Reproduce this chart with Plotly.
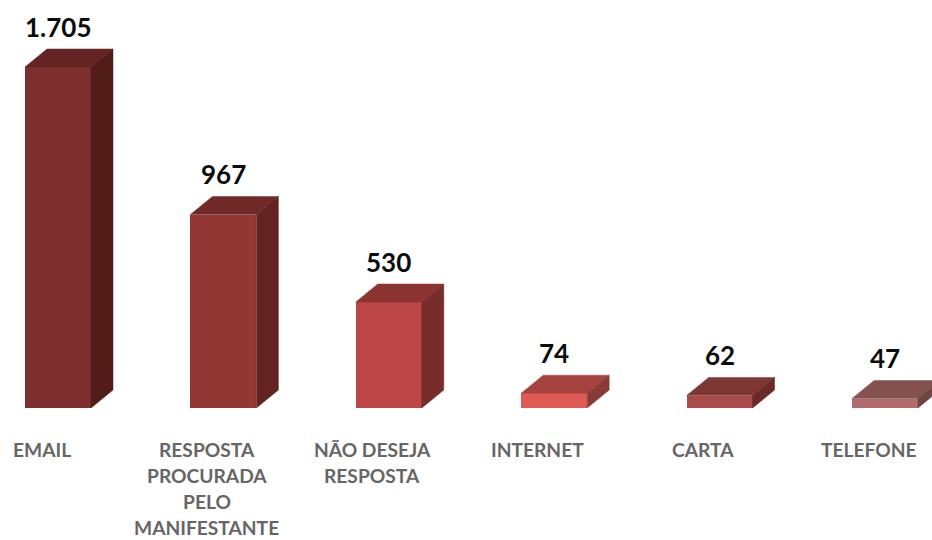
import plotly.graph_objects as go

categories = ["EMAIL", "RESPOSTA<br>PROCURADA<br>PELO<br>MANIFESTANTE", "NÃO DESEJA<br>RESPOSTA", "INTERNET", "CARTA", "TELEFONE"]
values = [1705, 967, 530, 74, 62, 47]
value_labels = ["1.705", "967", "530", "74", "62", "47"]
front_colors = ["#7D2E2E", "#933735", "#BB4645", "#E05A55", "#A84B4A", "#B06C6C"]
top_colors = ["#632422", "#702B29", "#8C3432", "#A7433E", "#7F3733", "#845350"]
side_colors = ["#511C18", "#622321", "#762D2B", "#883A36", "#6A2B28", "#6F4441"]

W, H = 932, 540
STEP = 165.4
SCALE = 0.2          # px per unit
BASE_PX = 408
BAR_W = 66 / STEP
DX = 22 / STEP       # depth, x axis units
DY = 18 / SCALE      # depth, y axis units
LINE = 26.2
LABEL_XSHIFT = -16.5

fig = go.Figure()
xs = list(range(len(values)))

for i, v in zip(xs, values):
    l, r = i - BAR_W / 2, i + BAR_W / 2
    fig.add_scatter(x=[l, r, r + DX, l + DX, l], y=[v, v, v + DY, v + DY, v], fill="toself", mode="lines",
                    line=dict(width=0.5, color=top_colors[i]), fillcolor=top_colors[i], hoverinfo="skip")
    fig.add_scatter(x=[r, r + DX, r + DX, r, r], y=[0, DY, v + DY, v, 0], fill="toself", mode="lines",
                    line=dict(width=0.5, color=side_colors[i]), fillcolor=side_colors[i], hoverinfo="skip")
    fig.add_annotation(x=i, y=v, text=f"<b>{value_labels[i]}</b>", showarrow=False, yanchor="middle", yshift=40.5,
                       font=dict(family="Lato", size=26, color="#0c0c0c"))
    for k, line in enumerate(categories[i].split("<br>")):
        fig.add_annotation(x=i, y=0, text=f"<b>{line}</b>", showarrow=False, yanchor="middle",
                           xshift=LABEL_XSHIFT, yshift=-41 - k * LINE, borderpad=0,
                           font=dict(family="Lato", size=19.2, color="#666666"))

fig.add_bar(x=xs, y=values, width=BAR_W, marker=dict(color=front_colors, line_width=0), hoverinfo="skip")

fig.update_layout(
    width=W, height=H, showlegend=False, bargap=0,
    margin=dict(l=0, r=0, t=0, b=H - BASE_PX),
    paper_bgcolor="white", plot_bgcolor="white",
    xaxis=dict(range=[-58 / STEP, (W - 58) / STEP], visible=False),
    yaxis=dict(range=[0, BASE_PX / SCALE], visible=False),
)
fig.write_html("out.html", config={"displayModeBar": False},
               post_script="document.body.style.margin='0';document.documentElement.style.overflow='hidden';")
